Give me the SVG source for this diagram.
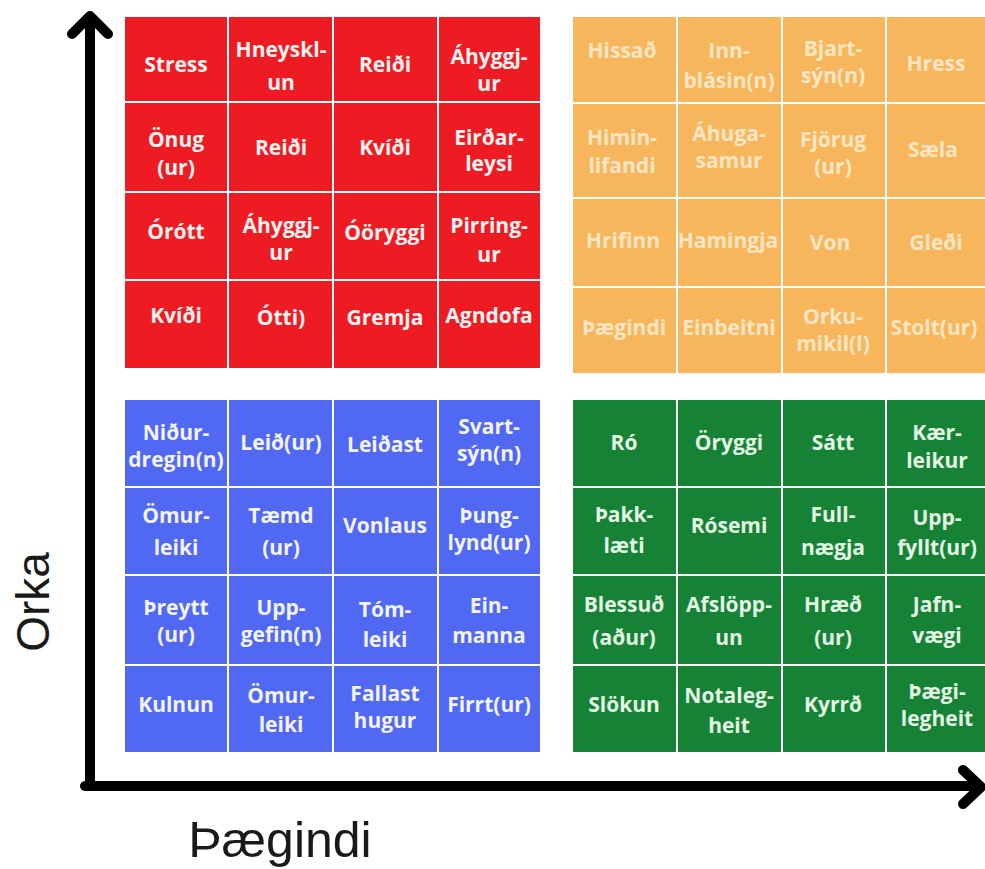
<svg xmlns="http://www.w3.org/2000/svg" width="985" height="869" viewBox="0 0 985 869">
<style>
.c text{font-family:"Open Sans","Liberation Sans",sans-serif;font-weight:700;font-size:21px;text-anchor:middle}
.r rect{fill:#ef1b23}.r text{fill:#fff2f0}
.o rect{fill:#f8b65c}.o text{fill:#fde6c4}
.b rect{fill:#5068f2}.b text{fill:#f2f3ff}
.g rect{fill:#158236}.g text{fill:#e4f6e4}
.ax{fill:none;stroke:#000;stroke-width:10;stroke-linecap:round;stroke-linejoin:round}
.lab{font-family:"Liberation Sans","Open Sans",sans-serif;fill:#1a1a1a}
</style>
<rect width="985" height="869" fill="#ffffff"/>

<g id="axes">
<path class="ax" d="M90 20 V786 M85 786 H978"/>
<path class="ax" d="M72 34 L90 16 L108 34"/>
<path class="ax" d="M963 770 L981 787 L963 804"/>
</g>
<text class="lab" font-size="46" transform="translate(49,602) rotate(-90)" text-anchor="middle">Orka</text>
<text class="lab" x="280" y="857" font-size="50" text-anchor="middle">Þægindi</text>

<!-- Red quadrant -->
<g class="c r">
<g id="r11"><rect x="125" y="17" width="102" height="84"/><text x="176" y="72">Stress</text></g>
<g id="r12"><rect x="229" y="17" width="103" height="84"/><text x="281" y="57">Hneyskl-</text><text x="281" y="90">un</text></g>
<g id="r13"><rect x="334" y="17" width="103" height="84"/><text x="385" y="72">Reiði</text></g>
<g id="r14"><rect x="439" y="17" width="101" height="84"/><text x="489" y="64">Áhyggj-</text><text x="489" y="91">ur</text></g>
<g id="r21"><rect x="125" y="103" width="102" height="88"/><text x="176" y="147">Önug</text><text x="176" y="175">(ur)</text></g>
<g id="r22"><rect x="229" y="103" width="103" height="88"/><text x="281" y="155">Reiði</text></g>
<g id="r23"><rect x="334" y="103" width="103" height="88"/><text x="385" y="155">Kvíði</text></g>
<g id="r24"><rect x="439" y="103" width="101" height="88"/><text x="489" y="145">Eirðar-</text><text x="489" y="171">leysi</text></g>
<g id="r31"><rect x="125" y="193" width="102" height="86"/><text x="176" y="239">Órótt</text></g>
<g id="r32"><rect x="229" y="193" width="103" height="86"/><text x="281" y="233">Áhyggj-</text><text x="281" y="260">ur</text></g>
<g id="r33"><rect x="334" y="193" width="103" height="86"/><text x="385" y="240">Óöryggi</text></g>
<g id="r34"><rect x="439" y="193" width="101" height="86"/><text x="489" y="233">Pirring-</text><text x="489" y="262">ur</text></g>
<g id="r41"><rect x="125" y="281" width="102" height="87"/><text x="176" y="323">Kvíði</text></g>
<g id="r42"><rect x="229" y="281" width="103" height="87"/><text x="281" y="325">Ótti)</text></g>
<g id="r43"><rect x="334" y="281" width="103" height="87"/><text x="385" y="325">Gremja</text></g>
<g id="r44"><rect x="439" y="281" width="101" height="87"/><text x="489" y="323">Agndofa</text></g>
</g>

<!-- Orange quadrant -->
<g class="c o">
<g id="o11"><rect x="573" y="17" width="103" height="85"/><text x="622" y="58">Hissað</text></g>
<g id="o12"><rect x="678" y="17" width="103" height="85"/><text x="729" y="58">Inn-</text><text x="729" y="88">blásin(n)</text></g>
<g id="o13"><rect x="783" y="17" width="102" height="85"/><text x="833" y="56">Bjart-</text><text x="833" y="83">sýn(n)</text></g>
<g id="o14"><rect x="887" y="17" width="103" height="85"/><text x="936" y="71">Hress</text></g>
<g id="o21"><rect x="573" y="104" width="103" height="93"/><text x="622" y="145">Himin-</text><text x="622" y="173">lifandi</text></g>
<g id="o22"><rect x="678" y="104" width="103" height="93"/><text x="729" y="141">Áhuga-</text><text x="729" y="168">samur</text></g>
<g id="o23"><rect x="783" y="104" width="102" height="93"/><text x="833" y="147">Fjörug</text><text x="833" y="174">(ur)</text></g>
<g id="o24"><rect x="887" y="104" width="103" height="93"/><text x="933" y="157">Sæla</text></g>
<g id="o31"><rect x="573" y="199" width="103" height="87"/><text x="623" y="248">Hrifinn</text></g>
<g id="o32"><rect x="678" y="199" width="103" height="87"/><text x="728" y="248">Hamingja</text></g>
<g id="o33"><rect x="783" y="199" width="102" height="87"/><text x="830" y="250">Von</text></g>
<g id="o34"><rect x="887" y="199" width="103" height="87"/><text x="936" y="250">Gleði</text></g>
<g id="o41"><rect x="573" y="288" width="103" height="85"/><text x="624" y="335">Þægindi</text></g>
<g id="o42"><rect x="678" y="288" width="103" height="85"/><text x="729" y="335">Einbeitni</text></g>
<g id="o43"><rect x="783" y="288" width="102" height="85"/><text x="833" y="324">Orku-</text><text x="833" y="351">mikil(l)</text></g>
<g id="o44"><rect x="887" y="288" width="103" height="85"/><text x="934" y="335">Stolt(ur)</text></g>
</g>

<!-- Blue quadrant -->
<g class="c b">
<g id="b11"><rect x="125" y="400" width="102" height="86"/><text x="176" y="440">Niður-</text><text x="176" y="467">dregin(n)</text></g>
<g id="b12"><rect x="229" y="400" width="103" height="86"/><text x="281" y="450">Leið(ur)</text></g>
<g id="b13"><rect x="334" y="400" width="103" height="86"/><text x="385" y="452">Leiðast</text></g>
<g id="b14"><rect x="439" y="400" width="101" height="86"/><text x="489" y="434">Svart-</text><text x="489" y="461">sýn(n)</text></g>
<g id="b21"><rect x="125" y="488" width="102" height="86"/><text x="176" y="523">Ömur-</text><text x="176" y="555">leiki</text></g>
<g id="b22"><rect x="229" y="488" width="103" height="86"/><text x="281" y="523">Tæmd</text><text x="281" y="555">(ur)</text></g>
<g id="b23"><rect x="334" y="488" width="103" height="86"/><text x="385" y="533">Vonlaus</text></g>
<g id="b24"><rect x="439" y="488" width="101" height="86"/><text x="489" y="523">Þung-</text><text x="489" y="550">lynd(ur)</text></g>
<g id="b31"><rect x="125" y="576" width="102" height="88"/><text x="176" y="615">Þreytt</text><text x="176" y="642">(ur)</text></g>
<g id="b32"><rect x="229" y="576" width="103" height="88"/><text x="281" y="615">Upp-</text><text x="281" y="642">gefin(n)</text></g>
<g id="b33"><rect x="334" y="576" width="103" height="88"/><text x="385" y="617">Tóm-</text><text x="385" y="647">leiki</text></g>
<g id="b34"><rect x="439" y="576" width="101" height="88"/><text x="489" y="613">Ein-</text><text x="489" y="643">manna</text></g>
<g id="b41"><rect x="125" y="666" width="102" height="86"/><text x="176" y="712">Kulnun</text></g>
<g id="b42"><rect x="229" y="666" width="103" height="86"/><text x="281" y="703">Ömur-</text><text x="281" y="732">leiki</text></g>
<g id="b43"><rect x="334" y="666" width="103" height="86"/><text x="385" y="701">Fallast</text><text x="385" y="728">hugur</text></g>
<g id="b44"><rect x="439" y="666" width="101" height="86"/><text x="489" y="712">Firrt(ur)</text></g>
</g>

<!-- Green quadrant -->
<g class="c g">
<g id="g11"><rect x="573" y="400" width="103" height="86"/><text x="624" y="450">Ró</text></g>
<g id="g12"><rect x="678" y="400" width="103" height="86"/><text x="729" y="450">Öryggi</text></g>
<g id="g13"><rect x="783" y="400" width="102" height="86"/><text x="833" y="450">Sátt</text></g>
<g id="g14"><rect x="887" y="400" width="103" height="86"/><text x="937" y="440">Kær-</text><text x="937" y="468">leikur</text></g>
<g id="g21"><rect x="573" y="488" width="103" height="86"/><text x="624" y="522">Þakk-</text><text x="624" y="553">læti</text></g>
<g id="g22"><rect x="678" y="488" width="103" height="86"/><text x="729" y="533">Rósemi</text></g>
<g id="g23"><rect x="783" y="488" width="102" height="86"/><text x="833" y="522">Full-</text><text x="833" y="555">nægja</text></g>
<g id="g24"><rect x="887" y="488" width="103" height="86"/><text x="937" y="525">Upp-</text><text x="937" y="555">fyllt(ur)</text></g>
<g id="g31"><rect x="573" y="576" width="103" height="88"/><text x="624" y="612">Blessuð</text><text x="624" y="645">(aður)</text></g>
<g id="g32"><rect x="678" y="576" width="103" height="88"/><text x="729" y="612">Afslöpp-</text><text x="729" y="645">un</text></g>
<g id="g33"><rect x="783" y="576" width="102" height="88"/><text x="833" y="612">Hræð</text><text x="833" y="645">(ur)</text></g>
<g id="g34"><rect x="887" y="576" width="103" height="88"/><text x="937" y="612">Jafn-</text><text x="937" y="643">vægi</text></g>
<g id="g41"><rect x="573" y="666" width="103" height="86"/><text x="624" y="712">Slökun</text></g>
<g id="g42"><rect x="678" y="666" width="103" height="86"/><text x="729" y="703">Notaleg-</text><text x="729" y="733">heit</text></g>
<g id="g43"><rect x="783" y="666" width="102" height="86"/><text x="833" y="712">Kyrrð</text></g>
<g id="g44"><rect x="887" y="666" width="103" height="86"/><text x="937" y="699">Þægi-</text><text x="937" y="726">legheit</text></g>
</g>
</svg>
